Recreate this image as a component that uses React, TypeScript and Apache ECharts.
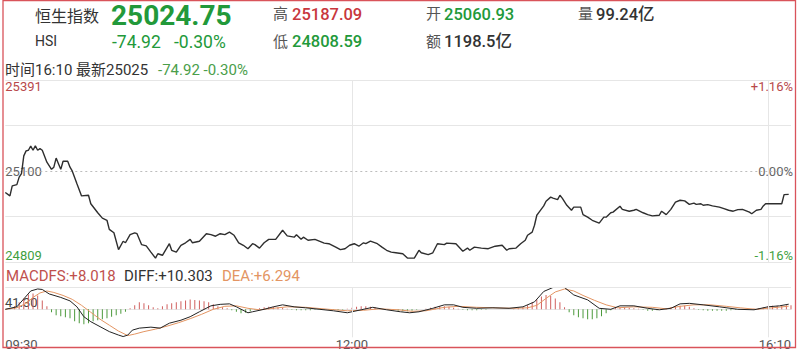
import React, { useEffect, useRef } from "react";
import * as echarts from "echarts";

// ---------- data ----------
const prevClose = 25099.67;
const priceMin = 24808.5;
const priceMax = 25390.8;
const pctLimit = 1.16;

const priceMinutes = [0,2,3,5,6,7,8,9,10,11,12,13,14,15,16,18,20,21,22,23,24,25,27,28,29,31,33,36,37,40,42,44,45,47,49,51,52,54,56,57,59,61,63,65,66,68,71,72,74,76,78,80,81,84,87,89,91,93,95,97,99,101,103,105,107,108,110,112,114,117,120,122,125,126,128,129,131,134,138,140,143,145,147,149,151,153,155,156,158,161,163,165,167,169,172,174,177,179,180,183,185,187,190,191,195,198,200,201,203,206,209,212,215,217,218,221,223,225,226,228,229,230,231,233,234,236,237,239,240,241,243,245,246,249,250,252,254,257,259,260,262,263,266,267,270,272,273,276,278,280,283,284,286,288,290,292,294,296,298,299,301,302,304,306,309,311,313,315,317,319,322,323,325,327,328,329,332,336,337,339];
const priceValues = [25031,25020,25052,25056,25080,25091,25148,25164,25166,25179,25166,25180,25166,25171,25166,25128,25105,25112,25141,25123,25105,25131,25131,25112,25099,25059,25020,25022,24995,24966,24949,24942,24913,24902,24848,24875,24870,24896,24902,24899,24864,24860,24840,24821,24835,24830,24867,24846,24840,24862,24870,24881,24870,24875,24899,24896,24891,24899,24896,24904,24894,24870,24862,24851,24867,24864,24853,24870,24881,24881,24910,24892,24888,24896,24881,24888,24878,24881,24869,24867,24856,24848,24851,24862,24867,24859,24870,24867,24875,24867,24856,24846,24840,24838,24835,24821,24821,24846,24838,24832,24838,24867,24864,24869,24867,24843,24853,24846,24856,24853,24851,24859,24862,24846,24851,24853,24867,24878,24894,24904,24926,24958,24968,24988,25003,25016,25013,25008,25022,25013,24990,24974,24984,24984,24960,24952,24942,24933,24952,24952,24966,24968,24987,24977,24971,24974,24977,24966,24960,24956,24958,24971,24960,24977,25000,25006,25004,24993,24997,24993,24995,24990,24992,24988,24984,24979,24974,24971,24976,24977,24968,24963,24974,24977,24988,24995,24995,24995,25024,25024.75];

const diffMinutes = [0,5,8,11,14,16,19,24,28,31,34,37,41,45,49,51,53,55,58,63,67,71,76,80,84,89,93,97,100,105,107,112,116,120,125,130,136,142,148,154,159,165,171,175,179,185,190,194,198,204,211,218,224,229,233,237,242,246,252,257,262,266,272,278,283,288,292,296,302,309,317,324,330,335,339];
const diffValues = [0,5,21,37,41,40,31,24,17,5,-15,-25,-35,-45,-52,-55,-52,-42,-38,-36,-38,-28,-22,-15,-5,7,10,11,5,-7,-5,0,5,9,5,3,0,-3,-7,-1,4,-1,-5,-7,-5,2,9,9,4,2,3,2,5,15,36,44,44,29,19,2,0,7,7,2,-1,2,11,12,9,5,0,-1,5,7,10.303];

const deaMinutes = [0,5,9,12,15,18,21,25,29,33,37,41,45,49,53,56,60,65,70,75,80,85,90,95,100,105,110,116,122,130,140,148,155,162,170,176,182,190,196,204,212,220,226,230,234,238,242,246,250,255,260,265,272,280,286,292,298,305,312,318,325,332,339];
const deaValues = [0,3,12,24,33,37,34,28,20,8,-6,-20,-32,-44,-53,-50,-45,-40,-34,-27,-19,-10,0,6,7,2,-1,2,5,4,0,-3,-2,1,-1,-4,-3,4,6,4,3,2,3,8,22,35,41,37,28,18,9,3,5,4,1,6,9,9,6,3,0,3,6.294];

// MACD histogram, one bar every 2 minutes from 09:30
const macdBarStepMinutes = 2;
const macdBars = [0,2,6,14,22,30,32,28,18,6,-6,-12,-14,-16,-18,-24,-28,-30,-28,-24,-22,-20,-18,-15,-12,-9,-5,2,8,14,12,8,4,2,6,10,12,14,16,18,20,19,18,16,14,10,6,4,2,-2,-5,-8,-7,-4,-1,2,4,5,5,4,3,1,-1,-2,-2,-2,-2,-1,-1,-1,-1,-1,-2,-1,1,3,5,6,6,5,4,2,0,-1,-2,-3,-4,-4,-3,-1,0,1,3,5,6,6,5,3,1,-1,-2,-2,-2,-1,-1,0,0,0,0,0,1,2,4,8,14,20,26,29,27,22,14,4,-6,-12,-16,-18,-20,-20,-18,-14,-8,-2,3,4,4,3,2,1,-1,-3,-3,-2,0,2,4,6,7,7,5,2,-1,-2,-3,-3,-3,-3,-3,-2,-1,0,0,0,1,2,4,6,7,7,7,8,8];
const macdAxisMin = -56.5;
const macdAxisMax = 45;
const macdMaxLabel = "41.30";

const timeTickMinutes = [0, 150, 340];
const timeTickLabels = ["09:30", "12:00", "16:10"];
const sessionLineMinutes = [150, 330];

const header = {
  name: "恒生指数",
  code: "HSI",
  last: "25024.75",
  change: "-74.92",
  changePct: "-0.30%",
  high: "25187.09",
  low: "24808.59",
  open: "25060.93",
  volume: "99.24亿",
  turnover: "1198.5亿",
  time: "16:10",
  latest: "25025",
};
const macdLegend = { macd: "+8.018", diff: "+10.303", dea: "+6.294" };

// ---------- styles ----------
const FONT = 'Roboto, "Noto Sans CJK SC", sans-serif';
const RED = "#c8373d";
const GREEN = "#22993a";
const LIGHT_GREEN = "#4a9e4a";
const DARK = "#333333";
const GREY = "#555555";
const GRID = "#e6e6e6";

const txt = (
  text: string,
  x: number,
  y: number,
  size: number,
  color: string,
  weight: string = "normal",
  align: string = "left"
) => ({
  type: "text",
  x,
  y,
  silent: true,
  style: {
    text,
    fill: color,
    font: `${weight} ${size}px ${FONT}`,
    textAlign: align,
    textVerticalAlign: "middle",
  },
});

export default function App() {
  const ref = useRef<HTMLDivElement>(null);

  useEffect(() => {
    if (!ref.current) return;
    const chart = echarts.init(ref.current, null, { renderer: "svg" });

    const priceData = priceMinutes.map((m, i) => [m, priceValues[i]]);
    const diffData = diffMinutes.map((m, i) => [m, diffValues[i]]);
    const deaData = deaMinutes.map((m, i) => [m, deaValues[i]]);
    const barData = macdBars.map((v, i) => [i * macdBarStepMinutes, v]);

    const vLines = sessionLineMinutes.map((m) => ({ xAxis: m }));

    const option: any = {
      animation: false,
      backgroundColor: "#ffffff",
      textStyle: { fontFamily: FONT },
      grid: [
        { left: 5.3, right: 9, top: 80, height: 182, outerBoundsMode: "none" },
        { left: 5.3, right: 9, top: 287, height: 50.3, outerBoundsMode: "none" },
      ],
      xAxis: [
        { type: "value", gridIndex: 0, min: 0, max: 340, show: false },
        {
          type: "value",
          gridIndex: 1,
          min: 0,
          max: 340,
          axisLine: { show: true, lineStyle: { color: GRID, width: 1 } },
          axisTick: { show: false },
          splitLine: { show: false },
          axisLabel: {
            customValues: timeTickMinutes,
            formatter: (v: number) => {
              const i = timeTickMinutes.indexOf(Math.round(v));
              return i >= 0 ? timeTickLabels[i] : "";
            },
            color: GREY,
            fontSize: 13,
            margin: 1,
            alignMinLabel: "left",
            alignMaxLabel: "right",
          },
        },
      ],
      yAxis: [
        {
          type: "value",
          gridIndex: 0,
          min: priceMin,
          max: priceMax,
          interval: (priceMax - priceMin) / 2,
          position: "left",
          axisLine: { show: false },
          axisTick: { show: false },
          splitLine: { show: false },
          axisLabel: {
            inside: true,
            margin: 0,
            fontSize: 13,
            formatter: (v: number) => String(Math.round(v)),
            color: (v: any) => {
              const n = Number(v);
              if (n > prevClose + 1) return "#b8484a";
              if (n < prevClose - 1) return "#3f9f3f";
              return "#666666";
            },
            verticalAlignMinLabel: "bottom",
            verticalAlignMaxLabel: "top",
          },
        },
        {
          type: "value",
          gridIndex: 0,
          min: -pctLimit,
          max: pctLimit,
          interval: pctLimit / 2,
          position: "right",
          axisLine: { show: false },
          axisTick: { show: false },
          splitLine: {
            show: true,
            lineStyle: { color: [GRID, GRID, "rgba(0,0,0,0)", GRID, GRID], width: 1 },
          },
          axisLabel: {
            inside: true,
            margin: -2,
            fontSize: 13,
            formatter: (v: number) => {
              if (Math.abs(v) < 1e-6) return "0.00%";
              if (Math.abs(Math.abs(v) - pctLimit) < 1e-6)
                return (v > 0 ? "+" : "") + v.toFixed(2) + "%";
              return "";
            },
            color: (v: any) => {
              const n = Number(v);
              if (n > 1e-6) return "#b8484a";
              if (n < -1e-6) return "#3f9f3f";
              return "#666666";
            },
            verticalAlignMinLabel: "bottom",
            verticalAlignMaxLabel: "top",
          },
        },
        {
          type: "value",
          gridIndex: 1,
          min: macdAxisMin,
          max: macdAxisMax,
          show: false,
        },
      ],
      series: [
        {
          type: "line",
          xAxisIndex: 0,
          yAxisIndex: 0,
          data: priceData,
          showSymbol: false,
          symbol: "none",
          lineStyle: { color: "#2e2e2e", width: 1.4 },
          z: 5,
          markLine: {
            silent: true,
            symbol: ["none", "none"],
            label: { show: false },
            lineStyle: { color: GRID, width: 1, type: "solid" },
            data: [
              ...vLines,
              { yAxis: prevClose, lineStyle: { color: "#bdbdbd", type: [2, 3], width: 1 } },
            ],
          },
        },
        {
          type: "bar",
          xAxisIndex: 1,
          yAxisIndex: 2,
          data: barData,
          barWidth: 1,
          itemStyle: {
            color: (p: any) => (p.value[1] >= 0 ? "#d0605f" : "#4c9a3c"),
          },
          markLine: {
            silent: true,
            symbol: ["none", "none"],
            label: { show: false },
            lineStyle: { color: GRID, width: 1, type: "solid" },
            data: [...vLines, { yAxis: macdAxisMax }],
          },
        },
        {
          type: "line",
          xAxisIndex: 1,
          yAxisIndex: 2,
          data: diffData,
          showSymbol: false,
          symbol: "none",
          lineStyle: { color: "#222222", width: 1 },
          z: 4,
        },
        {
          type: "line",
          xAxisIndex: 1,
          yAxisIndex: 2,
          data: deaData,
          showSymbol: false,
          symbol: "none",
          lineStyle: { color: "#e39563", width: 1 },
          z: 3,
        },
      ],
      graphic: [
        {
          type: "rect",
          silent: true,
          shape: { x: 3, y: 0.5, width: 792.5, height: 347 },
          style: { fill: "none", stroke: "#d9535a", lineWidth: 1.3 },
          z: 100,
        },
        txt(header.name, 35, 16.5, 16, DARK),
        txt(header.last, 111, 15, 28, GREEN, "bold"),
        txt("高", 273, 14, 15, GREY),
        txt(header.high, 292, 14, 16.5, RED, "500"),
        txt("开", 426, 14, 15, GREY),
        txt(header.open, 444, 14, 16.5, GREEN, "500"),
        txt("量", 578, 14, 15, GREY),
        txt(header.volume, 596, 14, 16.5, DARK, "500"),
        txt(header.code, 35, 40.5, 14, DARK),
        txt(header.change, 112, 41.5, 17.5, GREEN),
        txt(header.changePct, 174, 41.5, 17.5, GREEN),
        txt("低", 273, 41.5, 15, GREY),
        txt(header.low, 292, 41.5, 16.5, GREEN, "500"),
        txt("额", 426, 41.5, 15, GREY),
        txt(header.turnover, 444, 41.5, 16.5, DARK, "500"),
        txt(`时间${header.time} 最新${header.latest}`, 5, 70, 15, DARK),
        txt(`${header.change} ${header.changePct}`, 158, 70, 15, LIGHT_GREEN),
        txt(`MACDFS:${macdLegend.macd}`, 6, 275.5, 15, "#c0504d"),
        txt(`DIFF:${macdLegend.diff}`, 124, 275.5, 15, DARK),
        txt(`DEA:${macdLegend.dea}`, 222, 275.5, 15, "#e39563"),
        txt(macdMaxLabel, 5, 302, 13, "#444444"),
      ],
    };

    chart.setOption(option);
    return () => chart.dispose();
  }, []);

  return (
    <div
      ref={ref}
      style={{ position: "absolute", left: 0, top: 0, width: 800, height: 358, background: "#ffffff" }}
    />
  );
}
